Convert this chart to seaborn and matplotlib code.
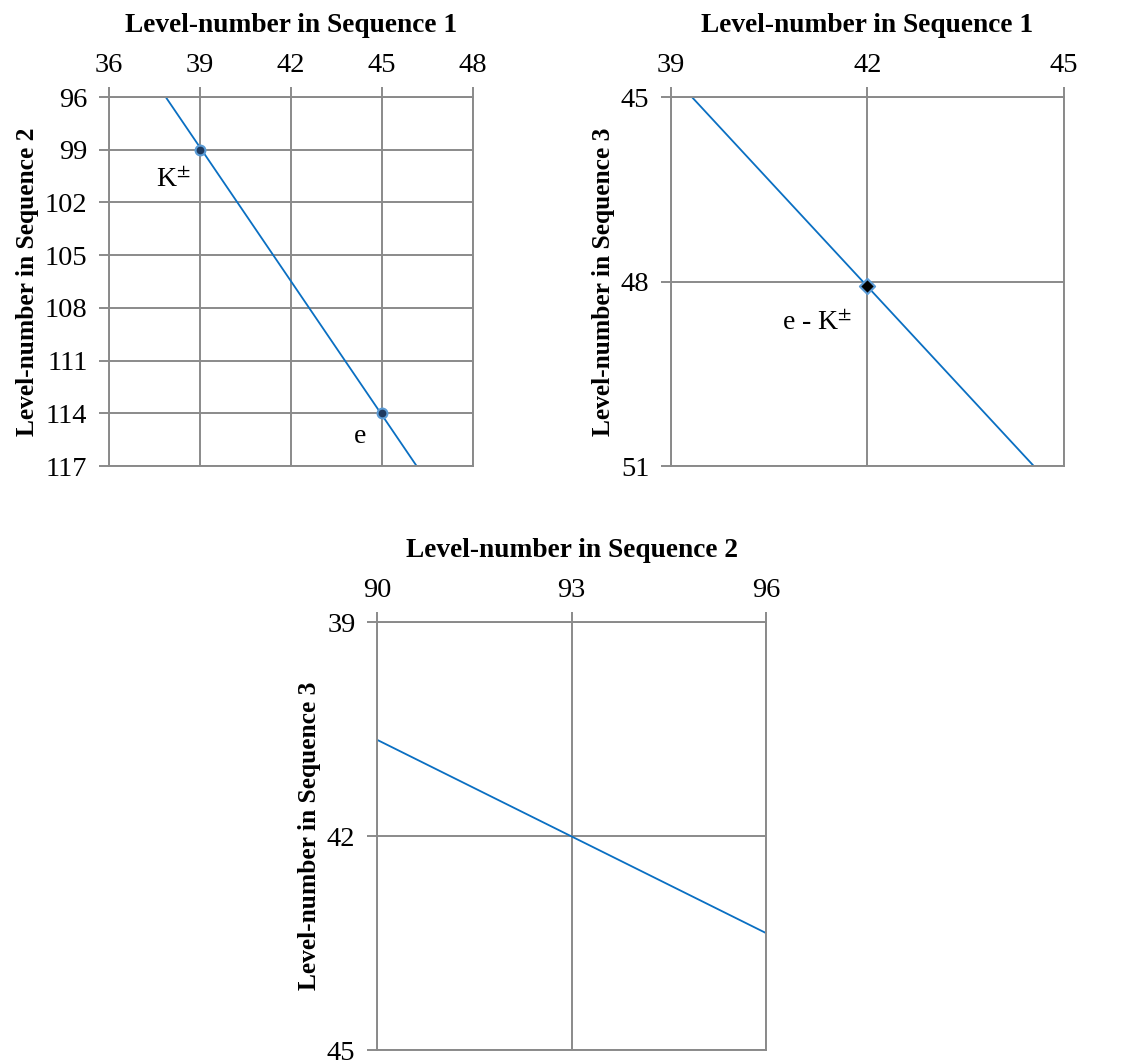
import matplotlib
matplotlib.use("Agg")
import matplotlib.pyplot as plt
import seaborn as sns

# panel 1: sequence 1 vs sequence 2
seq1_vals = [39, 45]
seq2_vals = [99, 114]
pt_names = ["K$^{\\pm}$", "e"]
fit1_x = [37.87, 46.14]
fit1_y = [96, 117]

# panel 2: sequence 1 vs sequence 3
combo_x = [42.0]
combo_y = [48.08]
combo_name = ["e - K$^{\\pm}$"]
fit2_x = [39.32, 44.54]
fit2_y = [45, 51]

# panel 3: sequence 2 vs sequence 3
fit3_x = [90, 96]
fit3_y = [40.65, 43.36]

sns.set_style("white")
plt.rcParams["font.family"] = ["Liberation Serif", "DejaVu Serif"]
plt.rcParams["mathtext.fontset"] = "stix"
plt.rcParams["text.color"] = "black"
plt.rcParams["axes.labelcolor"] = "black"
plt.rcParams["xtick.labelcolor"] = "black"
plt.rcParams["ytick.labelcolor"] = "black"

GRID = "#8a8a8a"
BLUE = "#0a6fc2"

fig = plt.figure(figsize=(11.25, 10.63), dpi=100)
ax1 = fig.add_axes([0.0969, 0.5616, 0.3236, 0.3471])
ax2 = fig.add_axes([0.5964, 0.5616, 0.3493, 0.3471])
ax3 = fig.add_axes([0.3351, 0.0122, 0.3458, 0.4026])


def style(ax, xlim, ylim, xticks, yticks, xlab, ylab):
    ax.set_xlim(*xlim)
    ax.set_ylim(ylim[1], ylim[0])
    ax.set_xticks(xticks)
    ax.set_yticks(yticks)
    ax.xaxis.tick_top()
    ax.xaxis.set_label_position("top")
    ax.grid(True, color=GRID, linewidth=1.4)
    ax.set_axisbelow(True)
    for s in ax.spines.values():
        s.set_color(GRID)
        s.set_linewidth(1.4)
    ax.tick_params(axis="both", which="both", direction="out", length=7,
                   width=1.4, color=GRID, labelsize=20.5)
    ax.tick_params(axis="x", top=True, bottom=False, pad=7)
    ax.tick_params(axis="y", left=True, right=False, pad=8.5)
    ax.set_xlabel(xlab, fontsize=19.7, fontweight="bold", labelpad=15)
    ax.set_ylabel(ylab, fontsize=18.4, fontweight="bold", labelpad=4)


# panel 1
sns.lineplot(x=fit1_x, y=fit1_y, ax=ax1, color=BLUE, linewidth=1.3, sort=False)
sns.scatterplot(x=seq1_vals, y=seq2_vals, ax=ax1, s=50, color="#1f3a5f",
                edgecolor="#5b9bd5", linewidth=1.5, zorder=5)
offsets = [(-19, -22), (-16, -17)]
for x, y, t, off in zip(seq1_vals, seq2_vals, pt_names, offsets):
    ax1.annotate(t, (x, y), xytext=off, textcoords="offset points",
                 ha="center", va="center", fontsize=20)
style(ax1, (36, 48), (96, 117), range(36, 49, 3), range(96, 118, 3),
      "Level-number in Sequence 1", "Level-number in Sequence 2")

# panel 2
sns.lineplot(x=fit2_x, y=fit2_y, ax=ax2, color=BLUE, linewidth=1.3, sort=False)
sns.scatterplot(x=combo_x, y=combo_y, ax=ax2, marker="D", s=60, color="black",
                edgecolor="#5b9bd5", linewidth=1.5, zorder=5)
ax2.annotate(combo_name[0], (combo_x[0], combo_y[0]), xytext=(-36, -27),
             textcoords="offset points", ha="center", va="center", fontsize=20)
style(ax2, (39, 45), (45, 51), [39, 42, 45], [45, 48, 51],
      "Level-number in Sequence 1", "Level-number in Sequence 3")

# panel 3
sns.lineplot(x=fit3_x, y=fit3_y, ax=ax3, color=BLUE, linewidth=1.3, sort=False)
style(ax3, (90, 96), (39, 45), [90, 93, 96], [39, 42, 45],
      "Level-number in Sequence 2", "Level-number in Sequence 3")

fig.savefig("out.png", dpi=100)
